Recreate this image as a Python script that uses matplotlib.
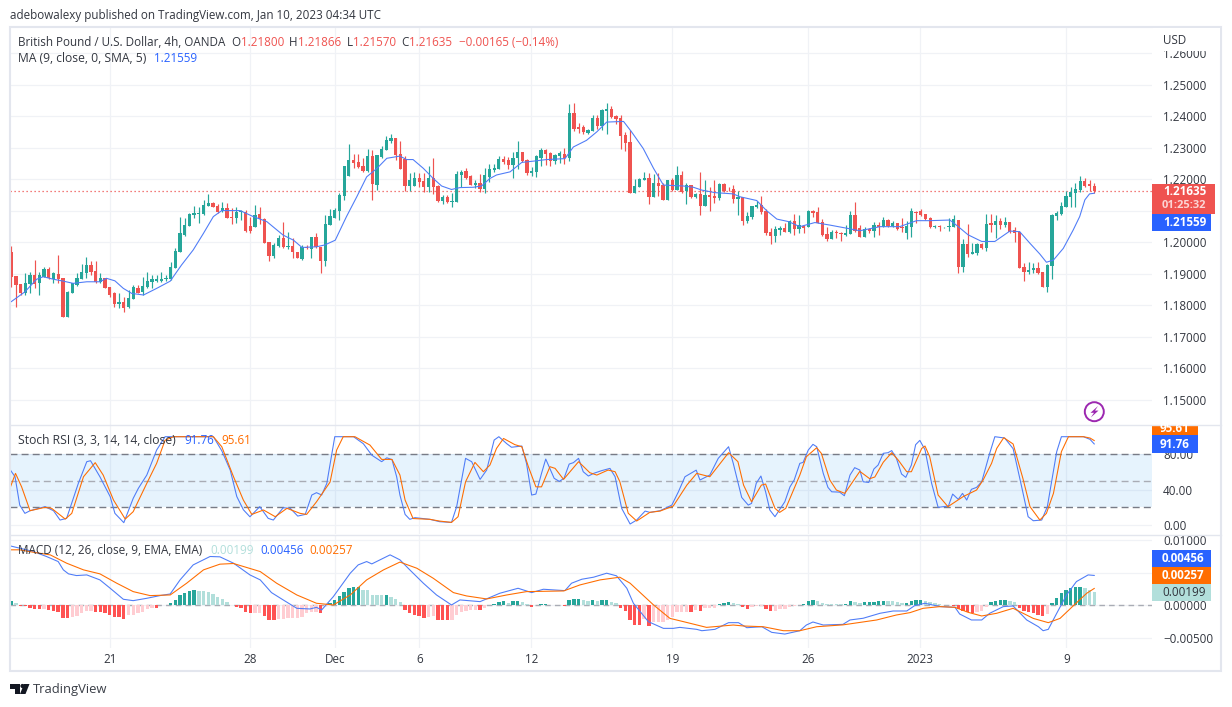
import matplotlib
matplotlib.use("Agg")
import matplotlib.pyplot as plt
import numpy as np
from matplotlib.patches import Rectangle, Circle, Polygon

# ---------- data (prices in 1e-4 USD) ----------
opens = [11970,11893,11868,11840,11868,11896,11870,11891,11914,11883,
11900,11888,11764,11838,11864,11883,11902,11928,11910,11875,
11888,11859,11838,11806,11812,11794,11821,11856,11842,11859,
11874,11878,11878,11883,11883,11920,11968,12022,12052,12088,
12090,12089,12115,12124,12115,12101,12108,12082,12076,12097,
12096,12052,12050,12089,12075,12001,11957,11988,12014,11984,
11988,11971,11948,11986,11980,12016,11986,11942,12055,12079,
12101,12147,12212,12261,12254,12242,12228,12274,12182,12272,
12293,12323,12333,
12282,12264,12179,12179,12206,12195,12175,12206,12179,12132,
12145,12129,12129,12214,12226,12211,12181,12187,12168,12208,
12229,12232,12266,12261,12245,12267,12286,12263,12221,12223,
12269,12293,12284,12258,12274,12282,12269,12411,12366,12365,
12347,12354,12395,12368,12417,12425,12401,12394,12340,12319,
12158,12177,12198,12206,12145,12187,12182,12135,12198,12166,
12214,12163,12181,12143,12154,12116,12149,12147,12140,12185,
12171,12168,12138,12145,12068,12082,12111,12119,12101,12034,
12021,12040,12045,12033,12068,12042,
12053,12050,12100,12095,12066,12027,12011,12034,12029,12024,
12027,12087,12045,12018,12043,12036,12055,12050,12071,12052,
12061,12050,12029,12050,12098,12101,12090,12079,12048,12052,
12048,12048,12050,12071,11923,11995,11963,11966,11995,11981,
12061,12055,12069,12055,12066,12039,12033,11921,11905,11911,
11919,11906,11857,11926,12084,12090,12113,12145,12158,12166,
12195,12184,12180]
highs = [11988,11893,11868,11902,11907,11944,11907,11923,11923,11907,
11960,11888,11847,11870,11902,11933,11955,11942,11942,11902,
11888,11859,11843,11838,11828,11849,11865,11865,11891,11907,
11896,11896,11907,11896,11939,11981,12082,12076,12092,12115,
12113,12134,12153,12127,12122,12127,12126,12108,12113,12103,
12103,12082,12119,12113,12076,12001,11997,12023,12066,12034,
12013,11971,11992,11992,12016,12029,11986,12087,12105,12108,
12156,12242,12312,12280,12280,12267,12298,12293,12277,12306,
12338,12344,12333,
12321,12275,12221,12222,12219,12221,12242,12269,12182,12151,
12151,12156,12226,12229,12235,12214,12198,12217,12235,12248,
12248,12275,12275,12272,12287,12321,12286,12266,12240,12277,
12300,12298,12287,12280,12291,12301,12438,12444,12380,12374,
12360,12403,12403,12424,12444,12432,12405,12403,12351,12358,
12200,12206,12222,12221,12217,12219,12189,12198,12203,12242,
12226,12187,12183,12156,12223,12198,12175,12198,12187,12189,
12175,12182,12164,12145,12098,12116,12133,12147,12105,12045,
12051,12051,12061,12072,12091,12087,
12055,12103,12103,12113,12074,12050,12039,12039,12034,12055,
12100,12128,12055,12050,12047,12066,12066,12080,12074,12069,
12063,12076,12069,12110,12100,12106,12090,12080,12055,12055,
12050,12076,12087,12071,12010,12058,11997,11997,11999,12089,
12090,12087,12076,12080,12066,12050,12035,11934,11937,11934,
11937,11907,11932,12089,12101,12129,12163,12177,12189,12211,
12203,12198,12187]
lows = [11859,11794,11833,11833,11840,11854,11833,11891,11883,11870,
11870,11764,11764,11838,11861,11883,11886,11896,11872,11872,
11854,11828,11796,11791,11780,11791,11821,11838,11833,11854,
11854,11875,11875,11877,11881,11920,11968,12020,12052,12079,
12062,12087,12115,12113,12092,12097,12076,12060,12062,12071,
12034,12031,12050,12060,11999,11942,11952,11986,11981,11978,
11952,11949,11944,11978,11951,11981,11904,11925,12055,12076,
12071,12134,12212,12235,12235,12224,12224,12134,12166,12267,
12293,12316,12261,
12233,12164,12163,12179,12177,12161,12161,12154,12128,12122,
12124,12112,12129,12177,12200,12182,12172,12161,12158,12193,
12224,12232,12248,12233,12205,12232,12256,12214,12211,12208,
12242,12245,12242,12248,12253,12248,12259,12354,12347,12343,
12345,12354,12361,12358,12343,12396,12377,12298,12291,12158,
12158,12175,12198,12123,12143,12147,12135,12135,12164,12166,
12158,12122,12141,12140,12087,12116,12100,12124,12135,12161,
12163,12126,12087,12056,12063,12074,12108,12091,12024,11996,
12002,12024,12033,12029,12024,12029,
12031,12050,12082,12061,12020,12006,12010,12013,12006,12020,
12027,12032,12016,12018,12031,12018,12024,12048,12050,12048,
12039,12032,12011,12018,12063,12084,12071,12045,12045,12037,
12047,12036,12048,11904,11907,11955,11963,11960,11979,11974,
12032,12015,12043,12050,12031,12001,11920,11876,11900,11902,
11900,11857,11844,11883,12071,12087,12111,12113,12113,12159,
12177,12164,12157]
closes = [11891,11865,11840,11870,11896,11868,11896,11914,11886,11902,
11883,11764,11841,11870,11886,11906,11928,11907,11875,11886,
11854,11832,11804,11812,11791,11824,11857,11840,11861,11877,
11885,11884,11885,11888,11923,11974,12031,12056,12091,12092,
12092,12119,12124,12113,12097,12110,12076,12076,12097,12101,
12036,12037,12087,12074,11999,11957,11992,12014,11984,11988,
11970,11949,11986,11981,12016,11986,11942,12058,12084,12103,
12150,12242,12261,12253,12240,12228,12274,12184,12277,12295,
12325,12333,12277,
12233,12179,12198,12206,12192,12175,12204,12175,12132,12145,
12127,12132,12217,12225,12206,12182,12187,12168,12214,12232,
12235,12266,12256,12245,12269,12286,12259,12221,12226,12275,
12293,12280,12258,12277,12284,12269,12411,12361,12361,12351,
12356,12395,12368,12419,12424,12398,12391,12338,12316,12158,
12179,12201,12206,12145,12187,12180,12135,12198,12166,12214,
12161,12181,12143,12154,12116,12151,12143,12140,12185,12164,
12168,12138,12145,12069,12084,12114,12120,12096,12029,12021,
12043,12047,12034,12068,12043,12056,
12045,12101,12094,12063,12024,12011,12034,12029,12026,12031,
12087,12037,12018,12042,12036,12055,12048,12071,12052,12063,
12043,12045,12052,12100,12094,12087,12074,12048,12052,12048,
12050,12052,12073,11923,11995,11963,11968,11995,11981,12058,
12055,12068,12055,12066,12034,12031,11920,11905,11911,11919,
11902,11857,11929,12087,12094,12116,12147,12159,12169,12195,
12180,12179,12164]

ma_idx = [0,2.9,5.4,6.8,9,11.1,13.2,16.1,18.9,20.3,22.1,23.9,25.7,28.2,31,33.9,36.3,38.8,41,43.1,44.9,48.8,51.6,54.5,58,60.2,62,65.1,66.9,69.1,71.5,73.7,75.8,78,80.1,82.9,84.3,85.7,87.9,90,91.8,93.9,95.7,98.5,100.3,102.1,103.5,106.4,108.9,111.4,114.2,118.1,119.9,122.7,124.9,127,130.6,132.3,134.8,137,139.1,143.4,145.5,147.3,150.1,154,155.4,159,161.1,163.3,165.8,168.2,171.4,174.6,178.2,181,185.3,189.5,193.1,195.9,200.2,202,204.1,207,209.8,213,215.1,217.3,219.4,220.8,222.3,224.4,226.5,227.9,229,230,231]
ma_val = [11812,11843,11883,11891,11883,11877,11870,11875,11875,11886,11878,11854,11838,11833,11854,11877,11928,11976,12029,12082,12101,12101,12082,12066,12023,12007,11984,11986,11992,12007,12082,12145,12208,12235,12267,12274,12263,12263,12235,12203,12179,12168,12174,12175,12179,12203,12214,12224,12254,12258,12263,12266,12303,12324,12351,12382,12384,12351,12298,12235,12182,12179,12175,12166,12158,12154,12145,12133,12101,12074,12066,12050,12063,12055,12045,12037,12050,12050,12069,12069,12071,12050,12024,12003,12003,12036,12034,11997,11963,11937,11944,11981,12039,12082,12135,12154,12156]

k_idx = [-0.3,0.8,1.8,2.9,4,7.2,9,10.4,11.8,14.3,16.1,16.9,18.9,21.1,22.1,24,26,27.1,28.9,31,32.8,43.1,44.9,46.7,48.1,49.5,50.9,53,54.8,55.9,58,59.5,61.1,62.7,64.1,65.1,66.2,67.3,69,73,75.1,76.9,79,80.1,81.2,82.2,82.9,84,85,86.1,89.3,91.4,93.9,95,96.9,98.2,100,101.4,103,104,105.7,106.7,108.9,109.9,111,111.9,113.1,114,115.8,116.9,117.9,119,119.9,121,122,123.1,124.2,125.9,127.7,128.8,130.2,132,133.4,135.2,136.2,138.4,140.9,142.3,143.7,146.1,146.9,149,150.8,153,154,155.8,157.2,157.9,158.9,159.9,160.9,161.8,162.9,165,166.1,167,168.2,168.9,170,171,171.8,173.2,174.2,175,176.7,177.7,178.9,179.9,181,181.7,182.9,184,184.9,186,187,187.8,188.8,189.9,190.8,192,192.9,193.8,194.9,196.3,197.7,199.9,200.8,202,202.9,203.8,204.8,205.9,207,208.7,209.8,211.9,213.7,215.5,216.9,218,219.8,221,223,224,225.5,228.7,230.1,231]
k_val = [62.9,54.5,22.3,12.9,15.9,20.5,15.9,5.3,7.2,47,71.6,72.7,54.5,31.8,12.9,2.3,29.9,41.3,56.4,84.8,100,100,84,62,32,17,9,20.5,7.2,5.3,19.3,18.6,9.8,11.7,33.7,36.4,33.7,46.9,100,100,92,79,71.6,76,74,54.5,33.7,11.7,6.1,8,6.1,3.4,2.6,20.5,75.4,71.6,51.5,62.1,96.2,100,92,88,89.4,69.7,33.7,34.8,58.3,74.6,52.7,49.2,52.7,68.9,70.5,75.4,60.2,55.3,58.3,61.4,64,54.5,18.6,0.8,5.3,15.5,14,15.9,22.3,37.4,54.5,62,50.8,56.4,75.4,88.6,69.7,31,22.3,24.2,47,55.3,37.4,16.7,9.1,26.1,43,50.8,69.7,70.8,84.8,91.3,88.6,58.3,42.4,37.4,37,32.9,56.4,64.8,62.1,48.8,48,63.3,67.8,81.1,81.8,84.2,75.4,57.6,53.8,67.8,90.9,95.8,85.2,47.3,19.7,21.2,34.8,28.8,35.6,28,40.2,42.4,48.8,81.1,100,98.5,86.4,43.6,9.1,4.5,5.3,20.5,83,100,100,100,97,91.76]
d_idx = [-0.3,0.9,2.2,4,7.2,8.6,11.5,12.9,15.4,17.9,19.6,21.8,24.3,26,28.9,31,32.8,34.6,43.1,44.9,47.4,49.5,51.3,53.8,56.3,58.8,61.6,63,65.1,68,69.4,70.8,73.3,76.5,79,81.2,82.9,84,85.7,89.3,91.4,93.9,95.3,96.9,98.9,100.7,102.1,103.5,105,107.4,108.9,110.3,111.9,113.1,114.9,116,117.8,121,123.4,124.9,127.3,128.8,129.8,131.6,133.4,136.2,138.4,141.2,144.1,146.2,149,153,155,156.2,157.9,160,160.9,162.9,163.9,165.2,168.2,169.6,171.8,172.8,174.6,176,177.8,181,183.1,184.2,186,187.8,189.2,191,192,194.2,194.9,195.9,197.7,199.8,203,205.9,207.3,209.1,210.2,211.7,213.7,215.8,217.3,219.4,220.8,222.3,224,225.5,228.7,230.1,231]
d_val = [41.3,58.3,43,15.9,19.7,18.6,6.4,12.9,54.5,70.5,56.4,28,6.4,14.8,47,69.7,96,100,100,88.6,54.5,28,11.7,16.7,9.1,18.6,12.9,11.7,26,48.5,84.8,100,100,90.5,74.2,74.2,56.4,28,7,6.1,4.1,2.6,9.1,48.8,70.8,60.2,67.8,86.7,98,91,88.6,65.9,43,43,65.9,64,51.5,71.6,59.1,56.4,62.1,60.2,49,13,4.2,14,15.5,21.2,45,58.3,54.5,81.8,71.6,45,26,45,46.2,18.6,14,18.6,56.4,77.3,87.5,81,50.8,39.4,35.6,60.6,52.3,54.2,71,81.8,73.4,60.2,60.2,86.7,89.4,77.3,33.7,20.5,31.8,39.4,50.8,69.7,86.7,98.9,91.7,52.3,20.5,5.3,12.9,35.6,83,100,100,98.5,95.61]

# MACD values in units of 0.001
macd_idx = [-0.3,1.8,4.7,7.5,10,11.1,12.2,13.9,16.1,18.9,21.1,23.9,26,28.9,31.7,33.9,36,38.8,42.4,44.5,47.4,50.9,53.1,55.5,58,60.9,63.7,65.1,66.2,68.7,72.3,74,75.8,76.9,80.8,82.9,85,87.9,90.7,93.9,95.7,100,104.2,108.1,111,113.5,118.1,119.5,121.7,124.2,127,129.1,131.3,132.7,135.9,139.1,141.2,142.6,146.2,147.3,150.1,153,155.1,156.9,160.1,162.2,165,168.2,169.6,171,173.2,177.4,178.9,181.7,185.3,188.1,191,192.7,194.9,198.1,201.3,202.3,204.8,207,208.7,211.6,213.7,216.6,219.1,220.1,221.2,223,225.1,227.2,229.7,231]
macd_val = [9.08,8.72,8.21,7.45,6.68,5.41,4.8,4.54,4.64,3.88,2.6,0.92,0.71,1.07,1.48,1.73,3.88,6.17,7.45,7.4,6.43,4.64,3.88,1.94,0.82,-0.46,-0.56,-0.31,-0.71,1.33,4.9,6.17,6.68,6.32,7.7,6.94,5.41,3.37,1.58,0.05,0.82,0.56,1.84,2.6,1.94,2.45,2.24,3.37,3.98,4.29,4.9,4.5,2.6,0.31,-2.5,-3.52,-3.52,-3.37,-3.67,-3.88,-3.67,-2.65,-2.65,-3.42,-3.27,-4.13,-4.39,-3.88,-3.01,-2.55,-3.01,-2.91,-2.24,-1.98,-1.22,-0.87,-0.87,-0.05,0.31,-0.2,-0.31,-1.33,-2.24,-2.24,-1.22,-0.2,-0.1,-2.24,-3.27,-3.88,-3.67,-1.22,1.58,3.62,4.64,4.56]
signal_idx = [-0.3,1.8,4.7,8.3,11.8,15.4,18.9,22.5,26,29.6,33.9,37.4,41,44.5,47.4,53.1,56.6,60.9,65.1,68.7,72.3,75.8,79.4,82.9,86.5,90,94.3,97.1,101.4,105.7,109.9,117.8,121.3,125.6,129.8,132,137,140.5,143.4,148.3,154,156.2,160.4,164.7,168.2,171.8,177.4,184.6,188.8,191.7,194.5,198.1,201.3,204.1,207,210.2,213.7,218,221.2,223.7,226.5,229.4,231]
signal_val = [8.47,8.47,8.1,7.7,6.43,5.41,4.8,3.37,2.09,1.48,1.58,3.37,5.41,6.28,6.38,5.15,3.37,1.58,0.31,0.05,1.58,3.88,5.41,6.6,5.66,4.13,1.94,1.43,0.97,1.58,2.09,2.19,3.11,3.88,4.29,3.37,0.05,-2,-2.5,-3.37,-3.01,-3.16,-3.27,-3.88,-3.88,-3.27,-2.99,-2.24,-1.48,-1.12,-0.46,-0.2,-0.31,-1.07,-1.63,-1.22,-0.46,-2,-2.65,-2,-0.1,1.84,2.57]
hist = [0.71,0.31,-0.05,-0.1,-0.36,-0.5,-0.58,-0.56,-0.71,-0.92,
-1.02,-1.94,-1.95,-1.73,-1.58,-1.12,-0.82,-0.8,-1.02,-1.03,
-1.22,-1.48,-1.73,-1.84,-2.04,-1.48,-1.43,-1.12,-0.97,-0.56,
-0.41,-0.42,0.05,0.06,0.31,0.82,1.53,1.89,2.24,2.3,
2.24,2.19,2.04,1.79,1.22,0.97,0.51,0.0,-0.2,-0.36,
-1.07,-1.12,-1.11,-1.1,-1.63,-2.24,-2.25,-2.09,-2.08,-1.99,
-1.98,-1.94,-1.73,-1.12,-1.02,-0.97,-1.12,-0.1,0.31,0.82,
1.48,2.09,2.7,2.81,2.86,2.35,2.34,1.62,1.6,1.56,
1.6,1.22,0.97,
0.46,-0.71,-1.22,-1.48,-1.63,-1.94,-1.75,-1.7,-2.24,-2.26,
-2.28,-2.24,-1.48,-1.07,-0.82,-0.71,-0.7,-0.72,-0.36,0.05,
0.2,0.51,0.61,0.41,0.62,0.65,0.46,0.15,-0.26,0.05,
0.2,0.21,0.03,0.02,0.01,-0.05,0.82,0.92,0.93,0.77,
0.66,0.82,0.71,0.82,0.83,0.56,0.31,-0.36,-0.87,-2.24,
-2.96,-2.97,-2.1,-3.16,-2.6,-2.58,-2.5,-2.24,-1.73,-1.07,
-0.97,-0.96,-1.0,-0.71,-0.82,-0.41,-0.4,-0.36,0.15,0.31,
0.51,0.36,0.2,-0.2,-0.56,-0.26,-0.15,-0.14,-0.61,-0.87,
-0.82,-0.56,-0.51,-0.31,-0.1,0.05,
0.2,0.61,0.82,0.61,0.31,0.2,0.15,0.14,0.13,0.2,
0.66,0.51,0.31,0.51,0.52,0.53,0.66,0.67,0.66,0.61,
0.51,0.41,0.42,0.71,0.82,0.83,0.66,0.51,0.31,0.15,
0.05,0.03,-0.1,-0.61,-0.92,-1.02,-1.12,-1.02,-0.82,-0.2,
0.46,0.66,0.77,0.82,0.66,0.51,-0.46,-0.87,-1.07,-1.22,
-1.48,-1.63,-1.33,0.31,1.07,1.84,2.3,2.6,2.81,2.82,
2.6,2.35,1.99]

date_pos = [21.12,50.98,69.11,87.03,110.92,141,170,193.9,225.04]
date_labels = ['21','28','Dec','6','12','19','26','2023','9']
price_ticks = [1.15,1.16,1.17,1.18,1.19,1.20,1.21,1.22,1.23,1.24,1.25,1.26]
price_labels = ['1.15000','1.16000','1.17000','1.18000','1.19000','1.20000','','1.22000','1.23000','1.24000','1.25000','1.26000']
stoch_ticks = [0,40,80]
macd_ticks = [-0.005,0,0.005,0.01]
macd_labels = ['\u22120.00500','0.00000','','0.01000']
last_price = 1.21635

# ---------- style ----------
W, H = 1232, 707
plt.rcParams['font.family'] = ['Open Sans', 'DejaVu Sans']
FS = 8.35
TXT = '#333740'
GRID = '#f0f2f6'
BORDER = '#e3e6ee'
UP, DOWN = '#26a69a', '#ef5350'
BLUE, ORANGE = '#2962ff', '#ff6d00'
LINE_BLUE = '#4f7cf7'
LIGHT = '#b2dfdb'
LW = 0.78

fig = plt.figure(figsize=(W/100, H/100), dpi=100, facecolor='white')

X0, X1 = 10, 1152
BAR0, BARW = 11.3, 4.688
xlim = ((X0-BAR0)/BARW, (X1-BAR0)/BARW)

def pane(top, bottom):
    ax = fig.add_axes([X0/W, 1-bottom/H, (X1-X0)/W, (bottom-top)/H])
    ax.set_xlim(*xlim)
    for s in ax.spines.values():
        s.set_visible(False)
    ax.set_xticks(date_pos)
    ax.set_xticklabels([])
    ax.grid(True, color=GRID, lw=0.9)
    ax.set_axisbelow(True)
    ax.yaxis.tick_right()
    ax.tick_params(length=0, labelsize=FS, labelcolor=TXT, pad=8, axis='y')
    ax.tick_params(length=0, axis='x')
    return ax

# ---------- main price pane ----------
ax = pane(27, 424.5)
ax.set_ylim(1.22-(424.5-179.4)/3150, 1.22+(179.4-27)/3150)
ax.set_yticks(price_ticks)
ax.set_yticklabels(price_labels)
o, h, l, c = [np.array(a)/1e4 for a in (opens, highs, lows, closes)]
xs = np.arange(len(o))
cols = np.where(c >= o, UP, DOWN)
ax.vlines(xs, l, h, colors=cols, lw=0.85, zorder=3)
ax.bar(xs, np.abs(c-o), bottom=np.minimum(o, c), width=0.7, color=cols, lw=0, zorder=4)
ax.plot(ma_idx, np.array(ma_val)/1e4, color=LINE_BLUE, lw=LW, zorder=5)
ax.axhline(last_price, color=DOWN, lw=0.9, ls=(0, (1, 2.2)), zorder=2)

# ---------- Stoch RSI pane ----------
ax2 = pane(425, 534.3)
ax2.set_ylim((524.7-534.3)/0.88, (524.7-425)/0.88)
ax2.set_yticks(stoch_ticks)
ax2.set_yticklabels([f'{t:.2f}' for t in stoch_ticks])
ax2.axhspan(20, 80, color='#2196f3', alpha=0.11, lw=0, zorder=1)
ax2.axhline(80, color='#787b86', lw=1, ls=(0, (5, 3)), zorder=2)
ax2.axhline(20, color='#787b86', lw=1, ls=(0, (5, 3)), zorder=2)
ax2.axhline(50, color='#a9acb5', lw=1, ls=(0, (5, 3)), zorder=2)
ax2.plot(k_idx, k_val, color=LINE_BLUE, lw=LW, zorder=4)
ax2.plot(d_idx, d_val, color=ORANGE, lw=LW, zorder=4)

# ---------- MACD pane ----------
ax3 = pane(535, 648)
ax3.set_ylim(-(648-605.3)/6.55*1e-3, (605.3-535)/6.55*1e-3)
ax3.set_yticks(macd_ticks)
ax3.set_yticklabels(macd_labels)
ax3.set_xticklabels(date_labels, fontsize=FS, color=TXT)
ax3.tick_params(axis='x', pad=3.5)
ax3.axhline(0, color='#a9acb5', lw=1, ls=(0, (4, 3)), zorder=2)
hv = np.array(hist)
prev = np.concatenate(([hv[0]], hv[:-1]))
hist_cols = [(UP if v >= p else LIGHT) if v >= 0 else ('#ff5252' if v < p else '#ffcdd2')
             for v, p in zip(hv, prev)]
ax3.bar(np.arange(len(hv)), hv*1e-3, width=0.72, color=hist_cols, lw=0, zorder=3)
ax3.plot(macd_idx, np.array(macd_val)*1e-3, color=LINE_BLUE, lw=LW, zorder=4)
ax3.plot(signal_idx, np.array(signal_val)*1e-3, color=ORANGE, lw=LW, zorder=4)

# ---------- overlay in pixel coordinates: frame, legends, tags ----------
ov = fig.add_axes([0, 0, 1, 1], zorder=10)
ov.set_xlim(0, W)
ov.set_ylim(H, 0)
ov.axis('off')
ov.patch.set_alpha(0)

ov.add_patch(Rectangle((9.5, 26.5), 1211.5, 644.5, fill=False, ec=BORDER, lw=1.5))
ov.plot([10, 1221], [424.5, 424.5], color=BORDER, lw=1)
ov.plot([10, 1221], [534.5, 534.5], color=BORDER, lw=1)
ov.add_patch(Rectangle((1153, 28), 67, 22.5, fc='white', ec='none'))

def T(x, y, s, color=TXT, **kw):
    kw.setdefault('fontsize', FS)
    return ov.text(x, y, s, color=color, va='center', ha=kw.pop('ha', 'left'), **kw)

T(10, 15, 'adebowalexy published on TradingView.com, Jan 10, 2023 04:34 UTC', fontsize=8.4)
T(18, 42, 'British Pound / U.S. Dollar, 4h, OANDA')
for x, s in [(231.7, 'O'), (289.3, 'H'), (346.7, 'L'), (401.5, 'C')]:
    T(x, 42, s)
for x, s in [(240.7, '1.21800'), (297.8, '1.21866'), (353.5, '1.21570'), (409.5, '1.21635'),
             (459, '\u22120.00165 (\u22120.14%)')]:
    T(x, 42, s, color=DOWN)
T(18, 59, 'MA (9, close, 0, SMA, 5)', fontsize=8.7)
T(153.7, 59, '1.21559', color=BLUE)
T(18, 440, 'Stoch RSI (3, 3, 14, 14, close)', fontsize=8.75)
T(184.3, 440, '91.76', color=BLUE)
T(221, 440, '95.61', color=ORANGE)
T(18, 550, 'MACD (12, 26, close, 9, EMA, EMA)', fontsize=8.5)
T(210.7, 550, '0.00199', color=LIGHT)
T(260, 550, '0.00456', color=BLUE)
T(309.7, 550, '0.00257', color=ORANGE)
T(1162.7, 40, 'USD')

# right-hand tags
def tag(x0, y0, x1, y1, fc):
    r = Rectangle((x0, y0), x1-x0, y1-y0, fc=fc, ec='none')
    ov.add_patch(r)
    return r

tag(1152, 183.5, 1215, 213.5, DOWN)
T(1163, 191.5, '1.21635', color='white', fontweight='bold')
T(1162, 205, '01:25:32', color='#fbd5d4', fontweight='bold', fontsize=8.0)
tag(1152, 214, 1211, 231, BLUE)
T(1163, 222.5, '1.21559', color='white', fontweight='bold')

r = tag(1152, 425, 1198, 435, ORANGE)
t = T(1175, 428, '95.61', color='white', fontweight='bold', ha='center')
t.set_clip_path(r)
tag(1152, 435, 1198, 453, BLUE)
T(1175, 444, '91.76', color='white', fontweight='bold', ha='center')

tag(1152, 550, 1211, 567, BLUE)
T(1162, 558.5, '0.00456', color='white', fontweight='bold')
tag(1152, 567, 1211, 584, ORANGE)
T(1162, 575.5, '0.00257', color='white', fontweight='bold')
tag(1152, 584, 1211, 601, LIGHT)
T(1162, 592.5, '0.00199', color='#30343c')

# lightning badge
ov.add_patch(Circle((1094.3, 411.7), 9.5, fc='white', ec='#9c27b0', lw=1.4))
ov.add_patch(Polygon([(1098, 406), (1090.5, 412.8), (1094, 412.8), (1090.8, 417.5), (1098.5, 410.6), (1095, 410.6)],
                     closed=True, fc='#9c27b0', ec='none'))

# TradingView logo
ov.add_patch(Polygon([(10, 684), (20, 684), (20, 694), (15, 694), (15, 688.5), (10, 688.5)], closed=True, fc='#131722', ec='none'))
ov.add_patch(Circle((22.5, 686), 2.1, fc='#131722', ec='none'))
ov.add_patch(Polygon([(24, 684), (29.5, 684), (25.5, 694), (20, 694)], closed=True, fc='#131722', ec='none'))
T(33, 689.5, 'TradingView', fontsize=9.4, color='#3a3e47')

fig.savefig('out.png', dpi=100, facecolor='white')
